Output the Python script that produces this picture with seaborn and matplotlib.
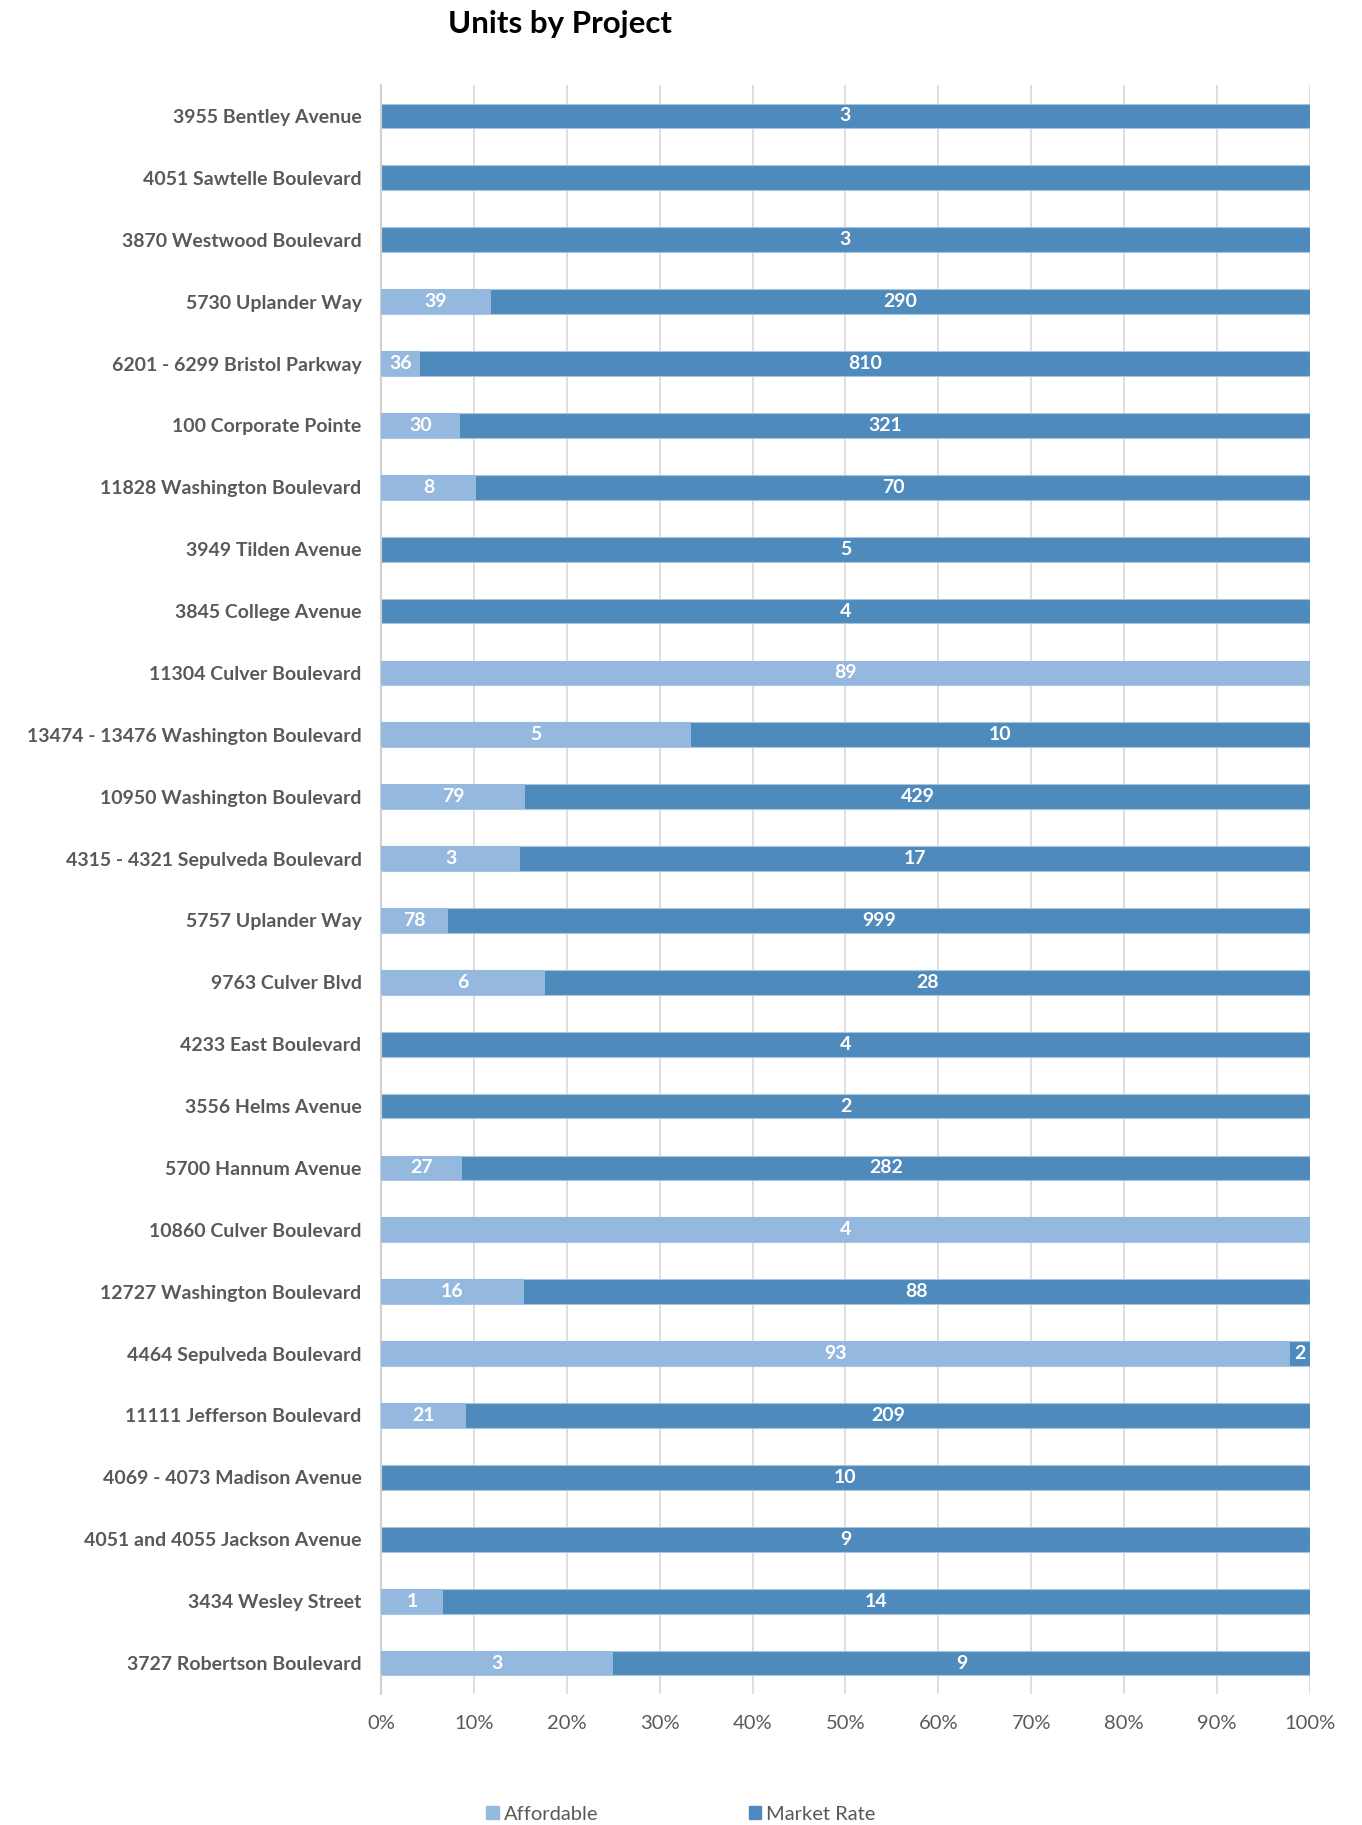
import numpy as np
import pandas as pd
import seaborn as sns
import matplotlib.pyplot as plt
from matplotlib.patches import Patch

projects = [
    "3955 Bentley Avenue", "4051 Sawtelle Boulevard", "3870 Westwood Boulevard",
    "5730 Uplander Way", "6201 - 6299 Bristol Parkway", "100 Corporate Pointe",
    "11828 Washington Boulevard", "3949 Tilden Avenue", "3845 College Avenue",
    "11304 Culver Boulevard", "13474 - 13476 Washington Boulevard",
    "10950 Washington Boulevard", "4315 - 4321 Sepulveda Boulevard",
    "5757 Uplander Way", "9763 Culver Blvd", "4233 East Boulevard",
    "3556 Helms Avenue", "5700 Hannum Avenue", "10860 Culver Boulevard",
    "12727 Washington Boulevard", "4464 Sepulveda Boulevard",
    "11111 Jefferson Boulevard", "4069 - 4073 Madison Avenue",
    "4051 and 4055 Jackson Avenue", "3434 Wesley Street", "3727 Robertson Boulevard",
]
affordable = [0, 0, 0, 39, 36, 30, 8, 0, 0, 89, 5, 79, 3, 78, 6, 0, 0, 27, 4, 16, 93, 21, 0, 0, 1, 3]
market_rate = [3, 1, 3, 290, 810, 321, 70, 5, 4, 0, 10, 429, 17, 999, 28, 4, 2, 282, 0, 88, 2, 209, 10, 9, 14, 9]
# the Sawtelle bar carries no data label in the original
show_market_label = [True, False] + [True] * 24

c_aff = "#95B8DF"
c_mkt = "#4F8ABC"

df = pd.DataFrame({"project": projects, "aff": affordable, "mkt": market_rate})
df["total"] = df["aff"] + df["mkt"]
df["aff_pct"] = df["aff"] / df["total"] * 100
df["all_pct"] = df["total"] / df["total"] * 100

sns.set_style("white")
plt.rcParams["font.family"] = ["Lato", "DejaVu Sans"]

fig = plt.figure(figsize=(13.62, 18.25), dpi=100)
ax = fig.add_axes([0.2797, 0.0718, 0.6821, 0.8816])

sns.barplot(data=df, x="all_pct", y="project", color=c_mkt, width=0.4, saturation=1,
            orient="h", ax=ax, zorder=2, edgecolor="#A9C5E2", linewidth=0.8)
sns.barplot(data=df, x="aff_pct", y="project", color=c_aff, width=0.4, saturation=1,
            orient="h", ax=ax, zorder=3, linewidth=0)

for i, row in df.iterrows():
    if row["aff"] > 0:
        ax.text(row["aff_pct"] / 2, i, f"{int(row['aff'])}", ha="center", va="center",
                color="white", fontsize=14, fontweight="bold", zorder=5)
    if row["mkt"] > 0 and show_market_label[i]:
        ax.text((row["aff_pct"] + 100) / 2, i, f"{int(row['mkt'])}", ha="center",
                va="center", color="white", fontsize=14, fontweight="bold", zorder=5)

ax.set_xlim(0, 100)
ax.set_ylim(25.5, -0.5)
ax.set_xticks(np.arange(0, 101, 10))
ax.set_xticklabels([f"{v}%" for v in range(0, 101, 10)])
ax.grid(axis="x", color="#D9D9D9", linewidth=1.2, zorder=0)
ax.set_axisbelow(True)
for s in ["top", "right", "bottom"]:
    ax.spines[s].set_visible(False)
ax.spines["left"].set_color("#D0D0D0")
ax.spines["left"].set_linewidth(1.5)
ax.set_xlabel("")
ax.set_ylabel("")
ax.tick_params(axis="x", length=0, pad=15, labelsize=14.5, labelcolor="#595959")
ax.tick_params(axis="y", length=0, pad=14, labelsize=14, labelcolor="#595959")
for lbl in ax.get_yticklabels():
    lbl.set_fontweight("bold")

fig.text(0.411, 0.987, "Units by Project", ha="center", va="center",
         fontsize=22.5, fontweight="bold", color="black")

handles = [Patch(color=c_aff, label="Affordable"), Patch(color=c_mkt, label="Market Rate")]
fig.legend(handles=handles, loc="center", bbox_to_anchor=(0.5, 0.006), ncol=2,
           frameon=False, fontsize=14.5, labelcolor="#595959", handlelength=0.6,
           handleheight=0.6, handletextpad=0.25, columnspacing=7.5)

fig.savefig("out.png", dpi=100)
